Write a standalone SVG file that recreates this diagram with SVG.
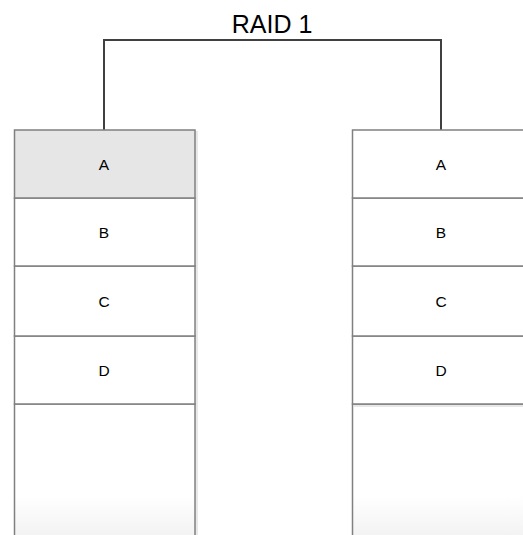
<svg xmlns="http://www.w3.org/2000/svg" width="523" height="535" viewBox="0 0 523 535">
  <style>
    .cell { stroke: #808080; stroke-width: 1.5; }
    .shadow { fill: #e8e8e8; }
    .lbl { font-family: "Liberation Sans", Arial, sans-serif; font-size: 15.5px; fill: #000; text-anchor: middle; }
    .title { font-family: "Liberation Sans", Arial, sans-serif; font-size: 25px; fill: #000; text-anchor: middle; }
    .link { fill: none; stroke: #404040; stroke-width: 2; }
  </style>
  <defs>
    <linearGradient id="freeFill" x1="0" y1="404" x2="0" y2="535" gradientUnits="userSpaceOnUse">
      <stop offset="0" stop-color="#ffffff"/>
      <stop offset="0.7" stop-color="#ffffff"/>
      <stop offset="1" stop-color="#f3f3f3"/>
    </linearGradient>
  </defs>
  <rect width="523" height="535" fill="#ffffff"/>

  <text class="title" x="272" y="33">RAID 1</text>

  <g id="connectors">
    <path class="link" d="M104,130 V40 H441 V130"/>
  </g>

  <!-- left disk -->
  <g id="disk-left">
    <rect class="shadow" x="195" y="131" width="3" height="404"/>
    <rect class="cell" x="14.5" y="404" width="180.5" height="140" fill="url(#freeFill)"/>
    <g id="left-d">
      <rect class="cell" x="14.5" y="336" width="180.5" height="68" fill="#ffffff"/>
      <text class="lbl" x="104" y="375.5">D</text>
    </g>
    <g id="left-c">
      <rect class="cell" x="14.5" y="266" width="180.5" height="70" fill="#ffffff"/>
      <text class="lbl" x="104" y="306.5">C</text>
    </g>
    <g id="left-b">
      <rect class="cell" x="14.5" y="198" width="180.5" height="68" fill="#ffffff"/>
      <text class="lbl" x="104" y="237.5">B</text>
    </g>
    <g id="left-a">
      <rect class="cell" x="14.5" y="130" width="180.5" height="68" fill="#e6e6e6"/>
      <text class="lbl" x="104" y="169.5">A</text>
    </g>
  </g>

  <!-- right disk -->
  <g id="disk-right">
    <rect class="cell" x="352.5" y="404" width="200" height="140" fill="url(#freeFill)"/>
    <rect class="shadow" x="354" y="405" width="169" height="2"/>
    <g id="right-d">
      <rect class="cell" x="352.5" y="336" width="200" height="68" fill="#ffffff"/>
      <text class="lbl" x="441" y="375.5">D</text>
    </g>
    <g id="right-c">
      <rect class="cell" x="352.5" y="266" width="200" height="70" fill="#ffffff"/>
      <text class="lbl" x="441" y="306.5">C</text>
    </g>
    <g id="right-b">
      <rect class="cell" x="352.5" y="198" width="200" height="68" fill="#ffffff"/>
      <text class="lbl" x="441" y="237.5">B</text>
    </g>
    <g id="right-a">
      <rect class="cell" x="352.5" y="130" width="200" height="68" fill="#ffffff"/>
      <text class="lbl" x="441" y="169.5">A</text>
    </g>
  </g>
</svg>
